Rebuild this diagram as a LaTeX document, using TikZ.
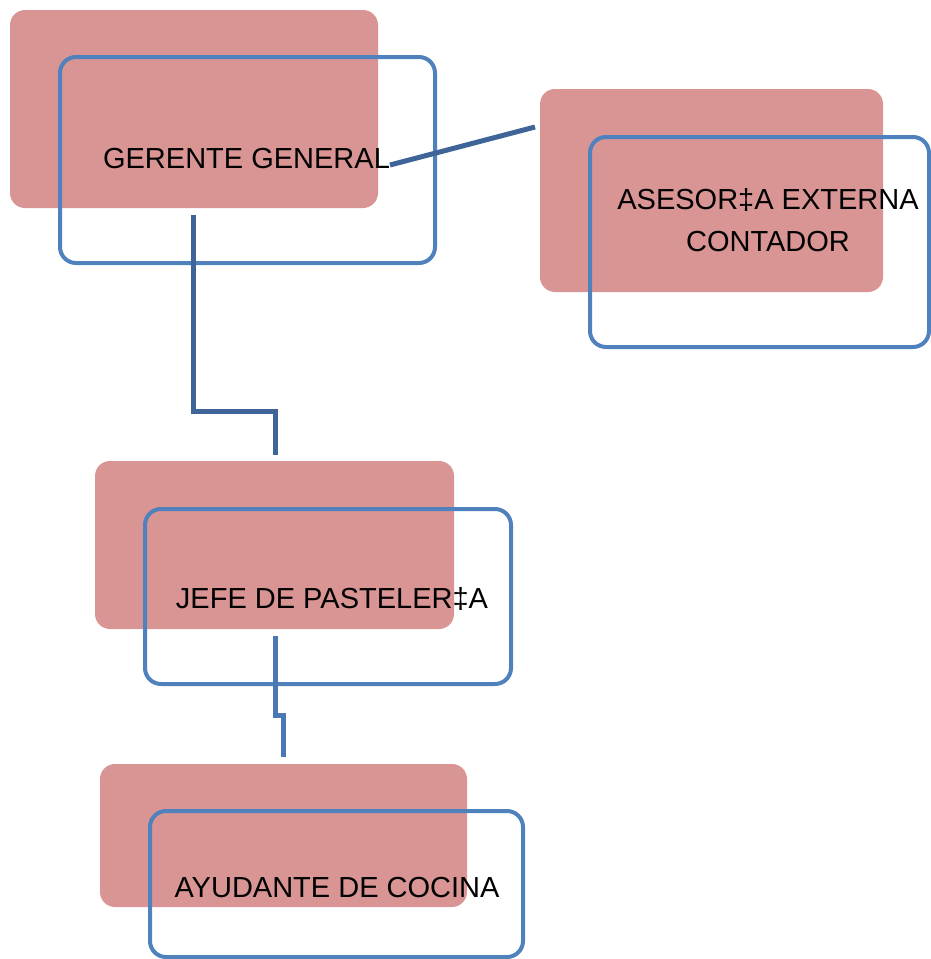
\documentclass[tikz,border=0pt]{standalone}
\usepackage{fontspec}
\setmainfont{Liberation Sans}
\definecolor{rosa}{HTML}{D99594}
\definecolor{azul}{HTML}{4F81BD}
\definecolor{lineaOscura}{HTML}{3F6598}
\definecolor{lineaClara}{HTML}{4A78B5}

\begin{document}
\begin{tikzpicture}[x=1pt, y=-1pt,
    fondo/.style={fill=rosa, rounded corners=15pt, inner sep=0pt},
    marco/.style={draw=azul, line width=4pt, rounded corners=16pt, inner sep=0pt},
    cargo/.style={font=\fontsize{29}{42}\selectfont, align=center, inner sep=0pt, anchor=base},
    enlace/.style={line width=5pt}]

\useasboundingbox (0,0) rectangle (931,959);

% fondos
\node[fondo, minimum width=368pt, minimum height=198pt] (gerenteFondo) at (194,109) {};
\node[fondo, minimum width=343pt, minimum height=203pt] (asesorFondo) at (711.5,190.5) {};
\node[fondo, minimum width=359pt, minimum height=168pt] (jefeFondo) at (274.5,545) {};
\node[fondo, minimum width=367pt, minimum height=143pt] (ayudanteFondo) at (283.5,835.5) {};

% marcos
\node[marco, minimum width=375pt, minimum height=206pt] (gerenteMarco) at (247.5,160) {};
\node[marco, minimum width=339pt, minimum height=210pt] (asesorMarco) at (759.5,242) {};
\node[marco, minimum width=366pt, minimum height=175pt] (jefeMarco) at (328,596.5) {};
\node[marco, minimum width=373pt, minimum height=146pt] (ayudanteMarco) at (336.5,884) {};

% cargos
\node[cargo] (gerente) at (246.5,168) {GERENTE GENERAL};
\node[cargo] (asesor) at (768,251) {ASESOR‡A EXTERNA\\CONTADOR};
\node[cargo] (jefe) at (332,608) {JEFE DE PASTELER‡A};
\node[cargo] (ayudante) at (337,897) {AYUDANTE DE COCINA};

% enlaces
\coordinate (gerenteDer) at (390,165);
\coordinate (asesorIzq) at (535,127);
\coordinate (gerenteAbajo) at (193,215);
\coordinate (jefeArriba) at (275,455);
\coordinate (jefeAbajo) at (275,636);
\coordinate (ayudanteArriba) at (283,757);

\draw[enlace, lineaOscura] (gerenteDer) -- (asesorIzq);
\draw[enlace, lineaOscura] (gerenteAbajo) |- (275,411) -- (jefeArriba);
\draw[enlace, lineaClara] (jefeAbajo) |- (283,715) -- (ayudanteArriba);

\end{tikzpicture}
\end{document}
